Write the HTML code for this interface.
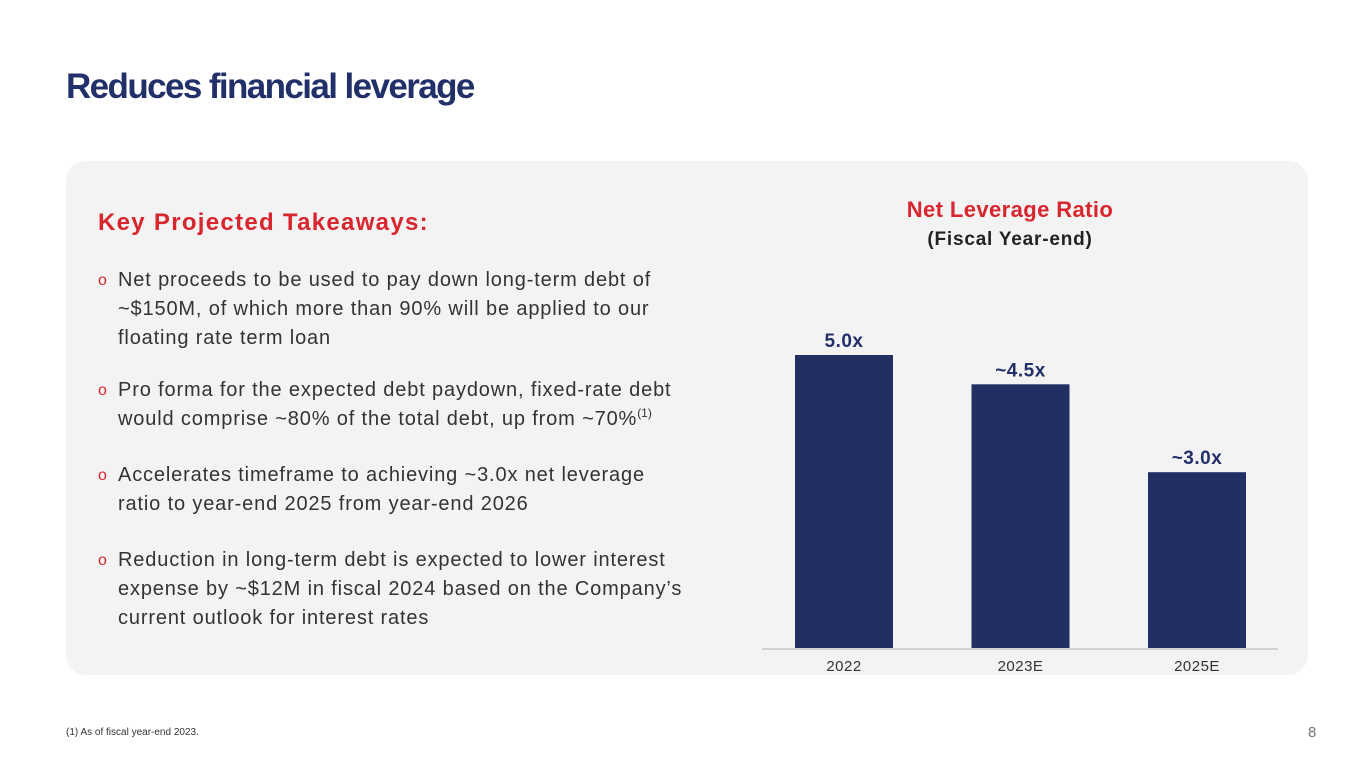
<!DOCTYPE html>
<html><head><meta charset="utf-8"><style>
body{margin:0;width:1365px;height:768px;background:#fff;font-family:"Liberation Sans",sans-serif;position:relative;overflow:hidden}
.a{position:absolute;white-space:nowrap}
#title{left:66px;top:67px;font-size:35px;font-weight:bold;color:#22306a;letter-spacing:-1.6px}
#panel{left:66px;top:161px;width:1242px;height:514px;background:#f3f3f3;border-radius:20px}
#kt{left:98px;top:209px;font-size:24px;font-weight:bold;color:#d7262e;letter-spacing:1.3px}
.p{left:98px;font-size:20px;color:#333;line-height:29px;letter-spacing:0.85px}
.p .b{position:absolute;left:0;top:0;color:#d7262e;font-size:16px}
.p .t{margin-left:20px;display:block}
sup{font-size:12px;line-height:0;vertical-align:8px;letter-spacing:0}
#ct{left:860px;top:197px;width:300px;text-align:center;font-size:22px;font-weight:bold;color:#d7262e;letter-spacing:0.4px}
#cs{left:860px;top:229px;width:300px;text-align:center;font-size:19px;font-weight:bold;color:#222;letter-spacing:0.8px}
#foot{left:66px;top:727px;font-size:10px;color:#333}
#pn{left:1308px;top:724px;font-size:15px;color:#777}
</style></head><body>
<div class="a" id="title">Reduces financial leverage</div>
<div class="a" id="panel"></div>
<div class="a" id="kt">Key Projected Takeaways:</div>
<div class="a p" style="top:266px"><span class="b">o</span><span class="t">Net proceeds to be used to pay down long-term debt of<br>~$150M, of which more than 90% will be applied to our<br>floating rate term loan</span></div>
<div class="a p" style="top:376px"><span class="b">o</span><span class="t">Pro forma for the expected debt paydown, fixed-rate debt<br>would comprise ~80% of the total debt, up from ~70%<sup>(1)</sup></span></div>
<div class="a p" style="top:461px"><span class="b">o</span><span class="t">Accelerates timeframe to achieving ~3.0x net leverage<br>ratio to year-end 2025 from year-end 2026</span></div>
<div class="a p" style="top:546px"><span class="b">o</span><span class="t">Reduction in long-term debt is expected to lower interest<br>expense by ~$12M in fiscal 2024 based on the Company’s<br>current outlook for interest rates</span></div>
<div class="a" id="ct">Net Leverage Ratio</div>
<div class="a" id="cs">(Fiscal Year-end)</div>
<svg class="a" style="left:0;top:0" width="1365" height="768" id="chart"></svg>
<div class="a" id="foot">(1) As of fiscal year-end 2023.</div>
<div class="a" id="pn">8</div>
<script>
const categories=["2022","2023E","2025E"];
const values=[5.0,4.5,3.0];
const valueLabels=["5.0x","~4.5x","~3.0x"];
const svg=document.getElementById('chart');
const NS="http://www.w3.org/2000/svg";
const baseY=648, scale=58.6, x0=795, step=176.5, bw=98;
const yPos=v=>baseY-v*scale;
const xPos=i=>x0+i*step;
function mk(t,a){const e=document.createElementNS(NS,t);for(const k in a)e.setAttribute(k,a[k]);svg.appendChild(e);return e;}
const ax=mk('line',{x1:762,x2:1278,y1:649,y2:649,stroke:'#c8c8c8','stroke-width':1.5});


categories.forEach((c,i)=>{
  const r=mk('rect',{x:xPos(i),y:yPos(values[i]),width:bw,height:values[i]*scale,fill:'#212f62'});
  
  
  const l=mk('text',{x:xPos(i)+bw/2,y:yPos(values[i])-8,'text-anchor':'middle','font-size':19,'font-weight':'bold',fill:'#22306a','font-family':'Liberation Sans, sans-serif','letter-spacing':0.5});
  l.textContent=valueLabels[i];
  
  
  const t=mk('text',{x:xPos(i)+bw/2,y:671,'text-anchor':'middle','font-size':15,fill:'#333','font-family':'Liberation Sans, sans-serif','letter-spacing':0.5});
  t.textContent=c;
  
  
});
</script>
</body></html>
